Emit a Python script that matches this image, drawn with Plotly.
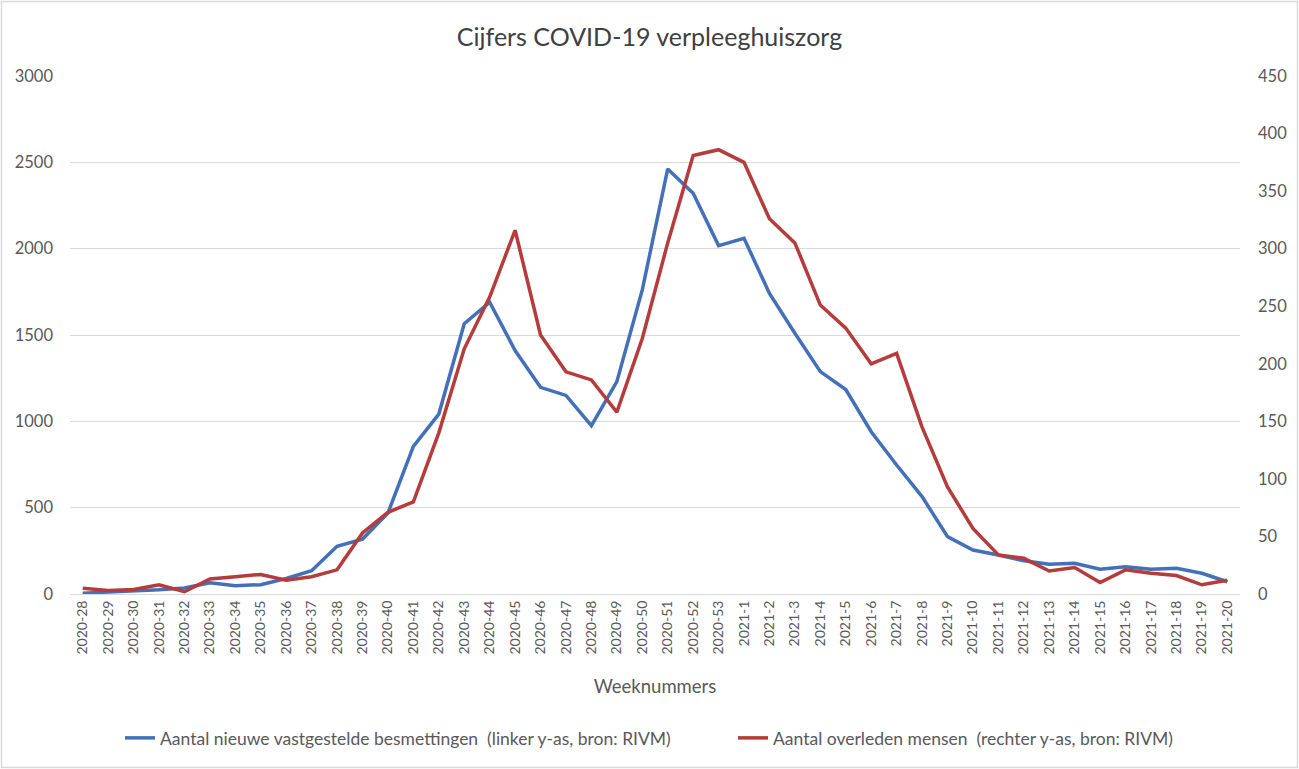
import plotly.graph_objects as go

weeks = [f"2020-{w}" for w in range(28, 54)] + [f"2021-{w}" for w in range(1, 21)]

besmettingen = [5, 10, 15, 25, 35, 65, 48, 54, 90, 135, 276, 318, 469, 855, 1042,
                1565, 1690, 1410, 1197, 1150, 975, 1230, 1761, 2462, 2321, 2018, 2060,
                1741, 1510, 1288, 1184, 940, 747, 564, 332, 255, 226, 193, 172, 178,
                143, 158, 143, 149, 120, 71]

overleden = [5, 3, 4, 8, 2, 13, 15, 17, 12, 15, 21, 53, 71, 80, 140,
             213, 258, 316, 225, 193, 186, 158, 222, 305, 381, 386, 375,
             326, 305, 251, 231, 200, 209, 145, 93, 57, 34, 31, 20, 23,
             10, 21, 18, 16, 8, 12]

blue = "#4370B8"
red = "#B43C3A"
grey = "#595959"
font_family = "Lato, 'Open Sans', sans-serif"

fig = go.Figure()
fig.add_trace(go.Scatter(
    x=weeks, y=besmettingen, mode="lines",
    name="Aantal nieuwe vastgestelde besmettingen  (linker y-as, bron: RIVM)",
    line=dict(color=blue, width=3.5), yaxis="y", legend="legend", showlegend=True))
fig.add_trace(go.Scatter(
    x=weeks, y=overleden, mode="lines",
    name="Aantal overleden mensen  (rechter y-as, bron: RIVM)",
    line=dict(color=red, width=3.5), yaxis="y2", legend="legend2", showlegend=True))

L, R, T, B = 70, 59, 76, 175
W, H = 1299, 769
pw = W - L - R
ph = H - T - B

def px(x):
    return (x - L) / pw

def py(y):
    return (H - B - y) / ph

legend_style = dict(orientation="h", yanchor="middle", xanchor="left", visible=True,
                    font=dict(size=17.5, color=grey), bgcolor="rgba(0,0,0,0)")

fig.update_layout(
    width=W, height=H,
    showlegend=True,
    margin=dict(l=L, r=R, t=T, b=B),
    paper_bgcolor="white", plot_bgcolor="white",
    font=dict(family=font_family, color=grey, size=14),
    title=dict(text="Cijfers COVID-19 verpleeghuiszorg", x=0.5, xanchor="center",
               y=1 - 37 / H, yanchor="middle",
               font=dict(size=25, color="#404040", family=font_family)),
    xaxis=dict(type="category", range=[-0.5, len(weeks) - 0.5],
               tickangle=-90, tickfont=dict(size=14, color=grey),
               showgrid=False, showline=True, linecolor="#d9d9d9", linewidth=1,
               ticks="", title=dict(text="Weeknummers", font=dict(size=18.5, color=grey), standoff=26)),
    yaxis=dict(range=[0, 3000], dtick=500, showgrid=True, gridcolor="#d9d9d9", gridwidth=1,
               zeroline=False, showline=False, ticks="", tickfont=dict(size=16.5, color=grey),
               ticklabelstandoff=16),
    yaxis2=dict(range=[0, 450], dtick=50, overlaying="y", side="right", showgrid=False,
                zeroline=False, showline=False, ticks="", tickfont=dict(size=16.5, color=grey),
                ticklabelstandoff=17),
    legend=dict(**legend_style, x=px(120), y=py(738)),
    legend2=dict(**legend_style, x=px(733), y=py(738)),
    shapes=[dict(type="rect", xref="paper", yref="paper",
                 x0=px(1.5), x1=px(W - 1.5), y0=py(H - 1.5), y1=py(1.5),
                 line=dict(color="#d9d9d9", width=1.5), fillcolor="rgba(0,0,0,0)", layer="below")],
)

fig.write_html("out.html", config={"displayModeBar": False},
               post_script="document.body.style.margin='0';document.body.style.overflow='hidden';")
